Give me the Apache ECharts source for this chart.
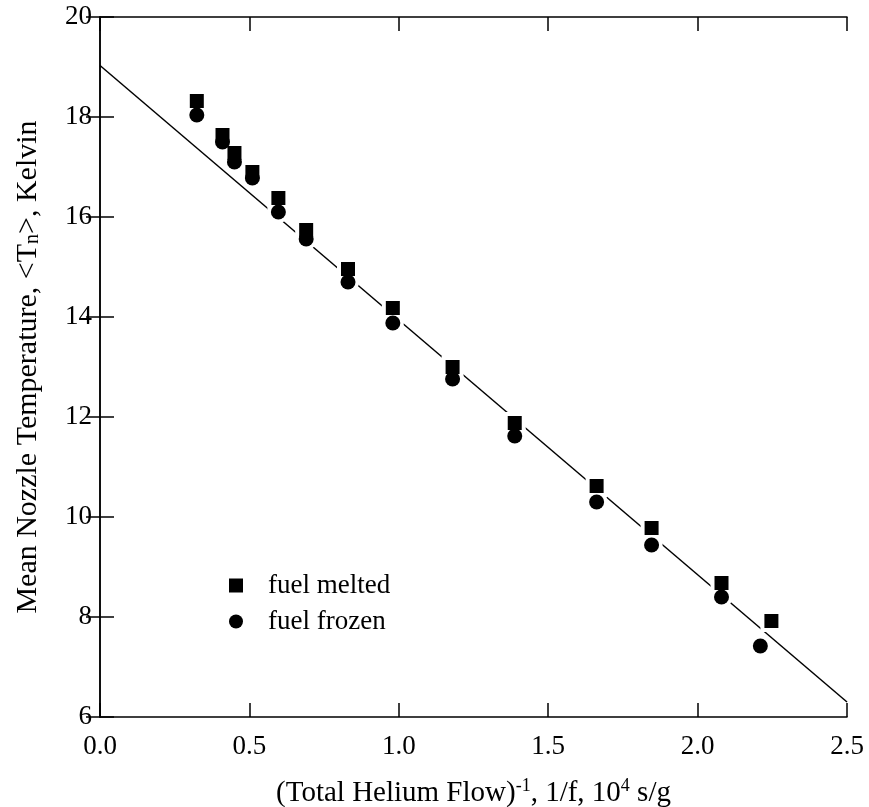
<!DOCTYPE html>
<html>
<head>
<meta charset="utf-8">
<script src="https://cdn.jsdelivr.net/npm/echarts@6/dist/echarts.min.js"></script>
<style>html,body{margin:0;padding:0;background:#fff}#c{width:869px;height:807px}</style>
</head>
<body>
<div id="c"></div>
<script>
var meltedX = [0.324, 0.41, 0.45, 0.51, 0.597, 0.69, 0.83, 0.98, 1.18, 1.388, 1.662, 1.846, 2.08, 2.247];
var meltedY = [18.32, 17.64, 17.28, 16.9, 16.38, 15.74, 14.96, 14.18, 13.0, 11.88, 10.62, 9.78, 8.68, 7.92];
var frozenX = [0.324, 0.41, 0.45, 0.51, 0.597, 0.69, 0.83, 0.98, 1.18, 1.388, 1.662, 1.846, 2.08, 2.21];
var frozenY = [18.04, 17.5, 17.1, 16.78, 16.1, 15.56, 14.7, 13.88, 12.76, 11.62, 10.3, 9.44, 8.4, 7.42];
var fitX = [0, 2.5];
var fitY = [19.03, 6.3];
var xTicks = ['0.0', '0.5', '1.0', '1.5', '2.0', '2.5'];
var yTicks = [6, 8, 10, 12, 14, 16, 18, 20];

function pairs(xs, ys) { return xs.map(function (x, i) { return [x, ys[i]]; }); }

var font = 'Liberation Serif';
var chart = echarts.init(document.getElementById('c'));
var axisLine = { show: true, lineStyle: { color: '#000', width: 1.5 } };
var axisTick = { show: true, inside: true, length: 14, lineStyle: { color: '#000', width: 1.5 } };
chart.setOption({
  animation: false,
  backgroundColor: '#fff',
  grid: { left: 100, right: 22, top: 17, bottom: 90, containLabel: false, outerBoundsMode: 'none' },
  legend: {
    orient: 'vertical', left: 224, top: 567, itemGap: 9,
    itemWidth: 14, itemHeight: 14,
    textStyle: { fontFamily: font, fontSize: 27, color: '#000', padding: [0, 0, 0, 20] },
    data: [{ name: 'fuel melted', icon: 'rect' }, { name: 'fuel frozen', icon: 'circle' }]
  },
  xAxis: [{
    type: 'value', min: 0, max: 2.5, interval: 0.5, position: 'bottom',
    axisLine: axisLine, axisTick: axisTick, splitLine: { show: false },
    axisLabel: { fontFamily: font, fontSize: 27, color: '#000', margin: 16,
      formatter: function (v) { return xTicks[Math.round(v / 0.5)]; } },
    name: '(Total Helium Flow){sup|-1}, 1/f, 10{sup|4} s/g', nameLocation: 'middle', nameGap: 60,
    nameTextStyle: { fontFamily: font, fontSize: 29, color: '#000',
      rich: { sup: { fontFamily: font, fontSize: 18, color: '#000', verticalAlign: 'top', padding: [0, 0, 14, 0] } } }
  }, {
    type: 'value', min: 0, max: 2.5, interval: 0.5, position: 'top',
    axisLine: axisLine, axisTick: axisTick, splitLine: { show: false }, axisLabel: { show: false }
  }],
  yAxis: [{
    type: 'value', min: 6, max: 20, interval: 2, position: 'left',
    axisLine: axisLine, axisTick: axisTick, splitLine: { show: false },
    axisLabel: { fontFamily: font, fontSize: 27, color: '#000', margin: 8,
      formatter: function (v) { return yTicks.indexOf(v) >= 0 ? String(v) : ''; } },
    name: 'Mean Nozzle Temperature, <T{sub|n}>, Kelvin', nameLocation: 'middle', nameGap: 57,
    nameTextStyle: { fontFamily: font, fontSize: 30, color: '#000',
      rich: { sub: { fontFamily: font, fontSize: 20, color: '#000', verticalAlign: 'bottom', padding: [10, 0, 0, 0] } } }
  }, {
    type: 'value', min: 6, max: 20, interval: 2, position: 'right',
    axisLine: axisLine, axisTick: axisTick, splitLine: { show: false }, axisLabel: { show: false }
  }],
  series: [
    { type: 'line', data: pairs(fitX, fitY), symbol: 'none', lineStyle: { color: '#000', width: 1.5 }, z: 1, silent: true },
    { type: 'scatter', data: pairs(meltedX, meltedY), symbol: 'rect', symbolSize: 22, itemStyle: { color: '#fff', opacity: 1 }, z: 2, silent: true },
    { type: 'scatter', data: pairs(frozenX, frozenY), symbol: 'circle', symbolSize: 22, itemStyle: { color: '#fff', opacity: 1 }, z: 2, silent: true },
    { name: 'fuel melted', type: 'scatter', data: pairs(meltedX, meltedY), symbol: 'rect', symbolSize: 14, itemStyle: { color: '#000', opacity: 1 }, z: 3 },
    { name: 'fuel frozen', type: 'scatter', data: pairs(frozenX, frozenY), symbol: 'circle', symbolSize: 15, itemStyle: { color: '#000', opacity: 1 }, z: 3 }
  ]
});
</script>
</body>
</html>
